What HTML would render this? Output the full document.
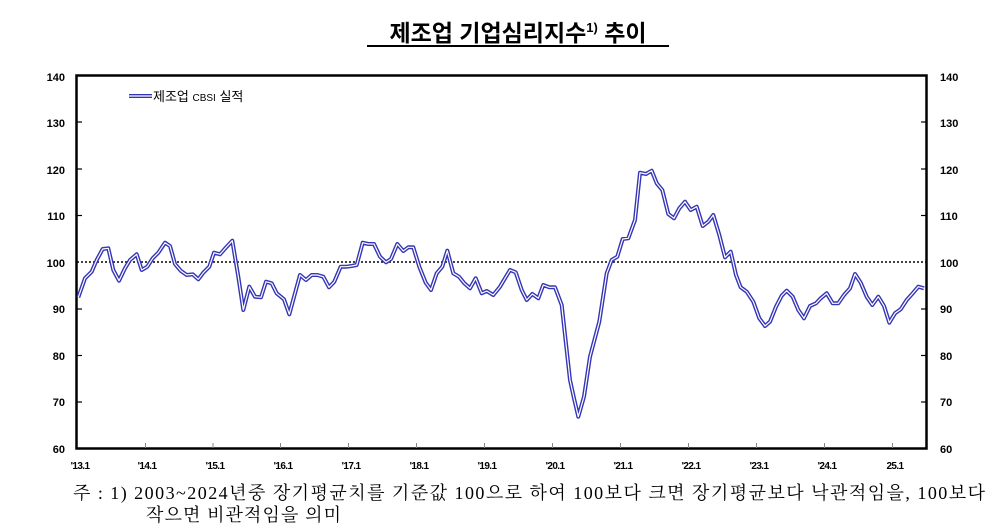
<!DOCTYPE html>
<html><head><meta charset="utf-8"><style>
html,body{margin:0;padding:0;background:#fff;}
body{width:1002px;height:531px;overflow:hidden;position:relative;}
</style></head><body>
<svg width="1002" height="531" viewBox="0 0 1002 531" xmlns="http://www.w3.org/2000/svg" style="position:absolute;left:0;top:0">
<text x="518" y="41" text-anchor="middle" font-family="'Liberation Sans','Noto Sans CJK KR',sans-serif" font-size="23" font-weight="bold" fill="#000">제조업 기업심리지수<tspan font-size="13" dy="-9">1)</tspan><tspan dy="9"> 추이</tspan></text>
<line x1="367" y1="46" x2="669" y2="46" stroke="#000" stroke-width="2"/>
<rect x="76.5" y="75.5" width="850" height="373" fill="none" stroke="#000" stroke-width="2.5"/>
<line x1="77" y1="262" x2="926" y2="262" stroke="#000" stroke-width="1.5" stroke-dasharray="2,2"/>
<g stroke="#000" stroke-width="1.2">
<line x1="77" y1="122" x2="82" y2="122"/><line x1="77" y1="169" x2="82" y2="169"/><line x1="77" y1="215.5" x2="82" y2="215.5"/><line x1="77" y1="309" x2="82" y2="309"/><line x1="77" y1="355.5" x2="82" y2="355.5"/><line x1="77" y1="402" x2="82" y2="402"/>
<line x1="921" y1="122" x2="926" y2="122"/><line x1="921" y1="169" x2="926" y2="169"/><line x1="921" y1="215.5" x2="926" y2="215.5"/><line x1="921" y1="309" x2="926" y2="309"/><line x1="921" y1="355.5" x2="926" y2="355.5"/><line x1="921" y1="402" x2="926" y2="402"/>
</g>
<g stroke="#888" stroke-width="1">
<line x1="145.5" y1="448" x2="145.5" y2="443"/><line x1="213" y1="448" x2="213" y2="443"/><line x1="280.5" y1="448" x2="280.5" y2="443"/><line x1="348.5" y1="448" x2="348.5" y2="443"/><line x1="416.5" y1="448" x2="416.5" y2="443"/><line x1="484.5" y1="448" x2="484.5" y2="443"/><line x1="552.5" y1="448" x2="552.5" y2="443"/><line x1="620.5" y1="448" x2="620.5" y2="443"/><line x1="688.5" y1="448" x2="688.5" y2="443"/><line x1="756.5" y1="448" x2="756.5" y2="443"/><line x1="824.5" y1="448" x2="824.5" y2="443"/><line x1="892.5" y1="448" x2="892.5" y2="443"/>
</g>
<g font-family="'Liberation Sans',sans-serif" font-size="11" font-weight="bold" fill="#000">
<g text-anchor="end"><text x="65" y="81">140</text><text x="65" y="127">130</text><text x="65" y="174">120</text><text x="65" y="220">110</text><text x="65" y="267">100</text><text x="65" y="313">90</text><text x="65" y="360">80</text><text x="65" y="406">70</text><text x="65" y="453">60</text></g>
<g><text x="940" y="81">140</text><text x="940" y="127">130</text><text x="940" y="174">120</text><text x="940" y="220">110</text><text x="940" y="267">100</text><text x="940" y="313">90</text><text x="940" y="360">80</text><text x="940" y="406">70</text><text x="940" y="453">60</text></g>
</g>
<g font-family="'Liberation Sans',sans-serif" font-size="10" font-weight="bold" fill="#000" text-anchor="middle" letter-spacing="-0.6">
<text x="80" y="469">'13.1</text><text x="147" y="469">'14.1</text><text x="215" y="469">'15.1</text><text x="283" y="469">'16.1</text><text x="351" y="469">'17.1</text><text x="419" y="469">'18.1</text><text x="487" y="469">'19.1</text><text x="555" y="469">'20.1</text><text x="623" y="469">'21.1</text><text x="691" y="469">'22.1</text><text x="759" y="469">'23.1</text><text x="827" y="469">'24.1</text><text x="895" y="469">25.1</text>
</g>
<line x1="129" y1="96" x2="152" y2="96" stroke="#3535b5" stroke-width="4"/>
<line x1="129" y1="96" x2="152" y2="96" stroke="#fff" stroke-width="1.2"/>
<text x="153" y="101" font-family="'Liberation Sans','Noto Sans CJK KR',sans-serif" font-size="13" fill="#000">제조업 <tspan font-size="10">CBSI</tspan> 실적</text>
<g fill="none" stroke-linejoin="round">
<polyline stroke="#3535b5" stroke-width="4" points="78.3,297.3 85,278.3 91.7,271.7 96.7,260 102.7,249 108.3,248.3 113.3,270 119,280.7 125,268.3 130,260 136.7,254.3 141.7,270 147.3,266.7 152.7,258.3 158.3,252.7 165,242.7 170,246 175,264 180.7,270.7 186.7,275 192.7,274.3 198.3,279.3 203.3,272.7 209.3,266.7 214,252.7 220,254.3 226.7,246.7 232.3,240.7 238.3,276.7 243.3,310 249.3,286.7 255,296.7 261,297.3 266,281.7 271.7,283.3 276.7,293.3 284,299.3 289.3,314.3 295,293.3 300,275 306,280 311.7,275 317.3,275 323.3,276.7 329,287.3 334.3,281.7 340.7,266.7 346.7,266.7 351.7,266 356.7,265 362.7,242.7 368.3,244 374,244 380,256.7 386,262.3 391,259 397.3,244 403.3,251 408.3,247.3 413.3,247.3 419.3,266.7 425.7,282.7 431,290 436.7,273.3 442.3,266.7 447.3,250.7 453.3,273.3 459,276.7 464.3,283.3 470,288.3 475.7,278.3 481.7,293.3 486.7,291 493.3,295 500,286.7 505,278.3 510,270 515.7,272.3 521.7,290 526.7,300 532.3,294 538.3,298.3 543.3,285 549.3,287.3 555,287.3 561.7,305 570,380 574,398.3 578.3,416.7 584,396.7 590,356.7 599.3,321.7 606.7,273.3 611.7,260 617.3,256.7 622.7,239 628.3,238.3 635,220 640,172.7 646,174 651.7,170.7 656.7,183.3 662.3,190 668.3,214 674,218.3 679.3,208.3 685,201.7 690.7,210 696.7,206.7 702.7,226 708.3,221.7 713.3,215 719.3,235 725,257.3 730.7,251.7 736,275 740.7,287.3 746.7,291.7 753.3,301.7 759.3,318.3 765,326 770,321.7 776,306.7 781.7,295.7 786.7,290.7 792.7,296.7 798.3,310 804,318.3 810,306 816,303.3 820.7,298.3 826.7,293.3 832.7,303.3 838.3,303.3 844,295 850,288.3 855,274 860.7,282.7 866.7,296.7 872.3,305 878.3,296.7 884,306 889.3,322.7 895,313.3 900.7,309.3 906.7,300 912.7,293.3 918.3,286.7 924,288.3"/>
<polyline stroke="#ffffff" stroke-width="1.2" points="78.3,297.3 85,278.3 91.7,271.7 96.7,260 102.7,249 108.3,248.3 113.3,270 119,280.7 125,268.3 130,260 136.7,254.3 141.7,270 147.3,266.7 152.7,258.3 158.3,252.7 165,242.7 170,246 175,264 180.7,270.7 186.7,275 192.7,274.3 198.3,279.3 203.3,272.7 209.3,266.7 214,252.7 220,254.3 226.7,246.7 232.3,240.7 238.3,276.7 243.3,310 249.3,286.7 255,296.7 261,297.3 266,281.7 271.7,283.3 276.7,293.3 284,299.3 289.3,314.3 295,293.3 300,275 306,280 311.7,275 317.3,275 323.3,276.7 329,287.3 334.3,281.7 340.7,266.7 346.7,266.7 351.7,266 356.7,265 362.7,242.7 368.3,244 374,244 380,256.7 386,262.3 391,259 397.3,244 403.3,251 408.3,247.3 413.3,247.3 419.3,266.7 425.7,282.7 431,290 436.7,273.3 442.3,266.7 447.3,250.7 453.3,273.3 459,276.7 464.3,283.3 470,288.3 475.7,278.3 481.7,293.3 486.7,291 493.3,295 500,286.7 505,278.3 510,270 515.7,272.3 521.7,290 526.7,300 532.3,294 538.3,298.3 543.3,285 549.3,287.3 555,287.3 561.7,305 570,380 574,398.3 578.3,416.7 584,396.7 590,356.7 599.3,321.7 606.7,273.3 611.7,260 617.3,256.7 622.7,239 628.3,238.3 635,220 640,172.7 646,174 651.7,170.7 656.7,183.3 662.3,190 668.3,214 674,218.3 679.3,208.3 685,201.7 690.7,210 696.7,206.7 702.7,226 708.3,221.7 713.3,215 719.3,235 725,257.3 730.7,251.7 736,275 740.7,287.3 746.7,291.7 753.3,301.7 759.3,318.3 765,326 770,321.7 776,306.7 781.7,295.7 786.7,290.7 792.7,296.7 798.3,310 804,318.3 810,306 816,303.3 820.7,298.3 826.7,293.3 832.7,303.3 838.3,303.3 844,295 850,288.3 855,274 860.7,282.7 866.7,296.7 872.3,305 878.3,296.7 884,306 889.3,322.7 895,313.3 900.7,309.3 906.7,300 912.7,293.3 918.3,286.7 924,288.3"/>
</g>
<g font-family="'Liberation Serif','Noto Serif CJK KR',serif" font-size="18" fill="#000">
<text x="73" y="499" textLength="912" lengthAdjust="spacing">주 : 1) 2003~2024년중 장기평균치를 기준값 100으로 하여 100보다 크면 장기평균보다 낙관적임을, 100보다</text>
<text x="146" y="521" textLength="195" lengthAdjust="spacing">작으면 비관적임을 의미</text>
</g>
</svg>
</body></html>
